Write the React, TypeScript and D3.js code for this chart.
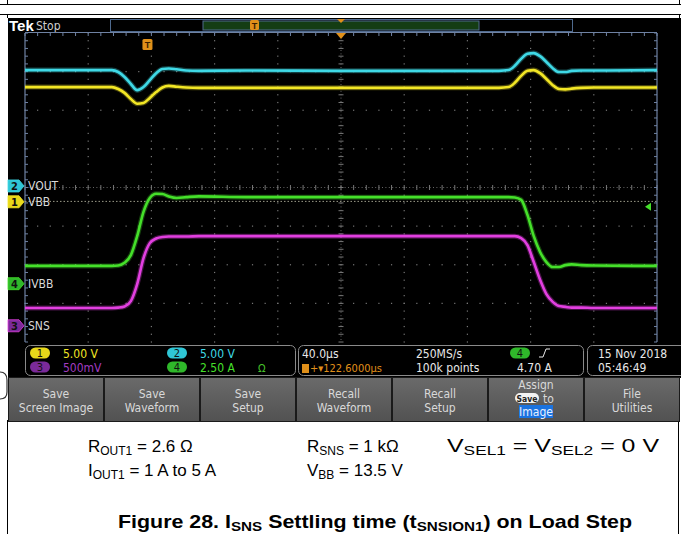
import React from 'react';
import * as d3 from 'd3';

// time axis, microseconds from left edge of the screen (40 µs/div, 10 div)
const timeUs = [0, 40, 55, 59, 63, 67, 71, 75, 79, 83, 87, 91, 96, 102, 110, 140, 200, 260, 300, 306, 310, 314, 318, 322, 326, 330, 334, 338, 342, 346, 352, 360, 400];
// traces in screen divisions (0 = screen centre)
const voutDiv = [3.04, 3.04, 3.04, 2.99, 2.86, 2.68, 2.52, 2.60, 2.78, 2.96, 3.07, 3.08, 3.06, 3.03, 3.02, 3.03, 3.02, 3.02, 3.02, 3.04, 3.15, 3.33, 3.46, 3.48, 3.40, 3.25, 3.09, 2.99, 2.99, 3.02, 3.03, 3.03, 3.04];
const vbbDiv = [2.60, 2.60, 2.60, 2.55, 2.45, 2.29, 2.17, 2.19, 2.32, 2.47, 2.59, 2.63, 2.61, 2.59, 2.58, 2.58, 2.58, 2.58, 2.58, 2.60, 2.71, 2.89, 3.02, 3.04, 2.96, 2.81, 2.65, 2.55, 2.54, 2.56, 2.58, 2.59, 2.59];
const ivbbDiv = [-2.03, -2.03, -2.03, -2.02, -1.95, -1.75, -1.26, -0.63, -0.27, -0.16, -0.17, -0.23, -0.27, -0.25, -0.23, -0.25, -0.25, -0.25, -0.25, -0.25, -0.26, -0.32, -0.71, -1.26, -1.67, -1.93, -2.06, -2.06, -2.01, -1.99, -2.01, -2.02, -2.03];
const snsDiv = [-3.12, -3.12, -3.12, -3.11, -3.08, -2.94, -2.50, -1.83, -1.44, -1.32, -1.28, -1.27, -1.27, -1.27, -1.26, -1.26, -1.26, -1.26, -1.26, -1.26, -1.26, -1.31, -1.49, -1.93, -2.39, -2.76, -2.96, -3.07, -3.09, -3.11, -3.11, -3.12, -3.12];

const channelNums = ['1', '2', '3', '4'];
const channelNames = ['VBB', 'VOUT', 'SNS', 'IVBB'];
const channelColors = ['#f2e625', '#3fd9e6', '#e23fe0', '#45e02a'];
const markerColors = ['#e8d81a', '#2fc6d6', '#7b2a9a', '#2fb82a'];
const groundDiv = [-0.37, 0.04, -3.58, -2.49];
const scaleLabels = ['5.00 V', '5.00 V', '500mV', '2.50 A'];
const triggerLevelDiv = -0.36;
const triggerArrowDiv = -0.5;

const buttonLabels = [
  ['Save', 'Screen Image'],
  ['Save', 'Waveform'],
  ['Save', 'Setup'],
  ['Recall', 'Waveform'],
  ['Recall', 'Setup'],
  ['Assign', '', 'Image'],
  ['File', 'Utilities'],
];

const scopeFont = "'Liberation Sans Narrow', 'DejaVu Sans Condensed', 'Liberation Sans', sans-serif";
const docFont = "'Liberation Sans', Arial, Helvetica, sans-serif";

export default function App() {
  const W = 681, H = 534;
  const x = d3.scaleLinear().domain([0, 400]).range([25, 657]);
  const y = d3.scaleLinear().domain([-4, 4]).range([342, 33]);
  const lineGen = d3.line<number>().x((_, i) => x(timeUs[i])).y(d => y(d)).curve(d3.curveMonotoneX);

  const traces = [vbbDiv, voutDiv, snsDiv, ivbbDiv];

  // graticule
  const dots: JSX.Element[] = [];
  const xMajor = d3.range(0, 11).map(i => i * 40);
  const yMajor = d3.range(-4, 5);
  const xMinor = d3.range(0, 51).map(i => i * 8);
  const yMinor = d3.range(-20, 21).map(i => i / 5);
  xMajor.forEach((t, i) => {
    if (i === 0 || i === 10 || i === 5) return;
    yMinor.forEach((v, j) => dots.push(<rect key={`vx${i}-${j}`} x={x(t) - 0.6} y={y(v) - 0.6} width={1.2} height={1.2} fill="#777" />));
  });
  yMajor.forEach((v, i) => {
    if (v === 0 || v === 4 || v === -4) return;
    xMinor.forEach((t, j) => dots.push(<rect key={`hy${i}-${j}`} x={x(t) - 0.6} y={y(v) - 0.6} width={1.2} height={1.2} fill="#777" />));
  });
  const cx = x(200), cy = y(0);

  const btnW = (680 - 8) / 7;

  return (
    <svg width={W} height={H} style={{ position: 'absolute', left: 0, top: 0, display: 'block', background: '#fff' }}>
      {/* document frame */}
      <line x1={0} y1={4.5} x2={W} y2={4.5} stroke="#000" strokeWidth={1} />
      <line x1={0} y1={14.5} x2={W} y2={14.5} stroke="#000" strokeWidth={1} />
      <line x1={7.5} y1={0} x2={7.5} y2={4.5} stroke="#000" />
      <line x1={7.5} y1={14.5} x2={7.5} y2={18} stroke="#000" />
      <line x1={679.5} y1={0} x2={679.5} y2={4.5} stroke="#000" />
      <line x1={679.5} y1={14.5} x2={679.5} y2={18} stroke="#000" />
      <line x1={7.5} y1={420} x2={7.5} y2={H} stroke="#000" />
      <line x1={678.5} y1={420} x2={678.5} y2={H} stroke="#000" />

      {/* scope screen */}
      <rect x={8} y={18} width={673} height={360} fill="#000" />
      <path d="M0,372 Q7,372 7,380 L7,392 Q7,399 0,399" fill="none" stroke="#333" strokeWidth={1.2} />

      {/* top bar */}
      <text x={9} y={31} fill="#fff" fontFamily={docFont} fontWeight="bold" fontSize={15}>Tek</text>
      <text x={36} y={30} fill="#cfcfcf" fontFamily={scopeFont} fontSize={12}>Stop</text>
      <rect x={110.5} y={19.5} width={462} height={12} fill="#000" stroke="#4f6a8e" strokeWidth={1} />
      <rect x={203} y={21} width={276} height={9} fill="#143d14" stroke="#4f6a8e" strokeWidth={1} />
      <rect x={250} y={20} width={9} height={10} rx={1.5} fill="#e0901a" />
      <text x={254.5} y={28.5} textAnchor="middle" fill="#3a2000" fontFamily={docFont} fontWeight="bold" fontSize={9}>T</text>
      <path d={`M${cx - 4},19 L${cx + 4},19 L${cx},23 Z`} fill="#e0901a" />

      {/* graticule */}
      {dots}
      <line x1={x(0)} y1={cy} x2={x(400)} y2={cy} stroke="#666" strokeDasharray="1 2.4" />
      <line x1={cx} y1={y(4)} x2={cx} y2={y(-4)} stroke="#666" strokeDasharray="1 2.4" />
      {xMinor.map((t, j) => <line key={`ct${j}`} x1={x(t)} y1={cy - 2.5} x2={x(t)} y2={cy + 2.5} stroke="#777" />)}
      {yMinor.map((v, j) => <line key={`cv${j}`} x1={cx - 2.5} y1={y(v)} x2={cx + 2.5} y2={y(v)} stroke="#777" />)}
      <line x1={x(0)} y1={y(4) - 0.5} x2={x(400)} y2={y(4) - 0.5} stroke="#6f82a3" strokeWidth={1} />
      <line x1={x(0)} y1={y(4)} x2={x(0)} y2={y(-4)} stroke="#6f82a3" strokeWidth={1.2} />
      <line x1={x(400)} y1={y(4)} x2={x(400)} y2={y(-4)} stroke="#6f82a3" strokeWidth={1.2} />
      {xMinor.map((t, j) => <line key={`tt${j}`} x1={x(t)} y1={y(4)} x2={x(t)} y2={y(4) + 3} stroke="#6f82a3" />)}
      {yMinor.map((v, j) => <line key={`lt${j}`} x1={x(0)} y1={y(v)} x2={x(0) + 3} y2={y(v)} stroke="#6f82a3" />)}
      {yMinor.map((v, j) => <line key={`rt${j}`} x1={x(400) - 3} y1={y(v)} x2={x(400)} y2={y(v)} stroke="#6f82a3" />)}

      {/* trigger level line & markers */}
      <line x1={x(0)} y1={y(triggerLevelDiv)} x2={x(400)} y2={y(triggerLevelDiv)} stroke="#9a9a88" strokeDasharray="1.5 2" />
      <path d={`M${x(400) - 12},${y(triggerArrowDiv)} L${x(400) - 6},${y(triggerArrowDiv) - 4} L${x(400) - 6},${y(triggerArrowDiv) + 4} Z`} fill="#45e02a" />
      <path d={`M${cx - 5},${y(4)} L${cx + 5},${y(4)} L${cx},${y(4) + 6} Z`} fill="#e0901a" />
      <rect x={x(77.5) - 5} y={39} width={10} height={11} rx={1.5} fill="#e0901a" />
      <text x={x(77.5)} y={48} textAnchor="middle" fill="#3a2000" fontFamily={docFont} fontWeight="bold" fontSize={9}>T</text>

      {/* traces */}
      {traces.map((vals, i) => (
        <path key={`g${i}`} d={lineGen(vals) || ''} fill="none" stroke={channelColors[i]} strokeOpacity={0.3} strokeWidth={5} />
      ))}
      {traces.map((vals, i) => (
        <path key={`t${i}`} d={lineGen(vals) || ''} fill="none" stroke={channelColors[i]} strokeWidth={2.6} strokeLinejoin="round" />
      ))}

      {/* channel ground markers */}
      {channelNums.map((n, i) => {
        const yy = y(groundDiv[i]);
        return (
          <g key={`m${n}`}>
            <path d={`M8,${yy - 6} L19,${yy - 6} L24,${yy} L19,${yy + 6} L8,${yy + 6} Z`} fill={markerColors[i]} stroke={channelColors[i]} strokeWidth={0.8} />
            <text x={14.5} y={yy + 4} textAnchor="middle" fill="#111" fontFamily={scopeFont} fontSize={11} fontWeight="bold">{n}</text>
            <text x={28} y={yy + 4.5} fill="#d8d8d8" fontFamily={scopeFont} fontSize={12}>{channelNames[i]}</text>
          </g>
        );
      })}

      {/* readout boxes */}
      <rect x={25.5} y={345.5} width={270} height={30} rx={5} fill="#000" stroke="#8a8a8a" />
      <rect x={298.5} y={345.5} width={285} height={30} rx={5} fill="#000" stroke="#8a8a8a" />
      <rect x={587.5} y={345.5} width={100} height={30} rx={5} fill="#000" stroke="#8a8a8a" />
      {[0, 2, 1, 3].map((ci, k) => {
        const col = k < 2 ? 0 : 1;
        const row = k % 2;
        const px = col === 0 ? 40 : 177;
        const py = row === 0 ? 353 : 367;
        return (
          <g key={`ro${ci}`}>
            <rect x={px - 10} y={py - 5.5} width={20} height={11} rx={5.5} fill={markerColors[ci]} />
            <text x={px} y={py + 4} textAnchor="middle" fill="#111" fontFamily={scopeFont} fontSize={11}>{channelNums[ci]}</text>
            <text x={px + 23} y={py + 4.5} fill={ci === 2 ? '#a23cc0' : channelColors[ci]} fontFamily={scopeFont} fontSize={12}>{scaleLabels[ci]}</text>
          </g>
        );
      })}
      <text x={258} y={371.5} fill="#45c02a" fontFamily={scopeFont} fontSize={11}>Ω</text>
      <text x={302} y={357.5} fill="#e8e8e8" fontFamily={scopeFont} fontSize={12}>40.0µs</text>
      <rect x={302} y={364} width={7} height={9} fill="#e0901a" />
      <text x={310} y={372} fill="#e0901a" fontFamily={scopeFont} fontSize={11}>+▾122.6000µs</text>
      <text x={416} y={357.5} fill="#e8e8e8" fontFamily={scopeFont} fontSize={12}>250MS/s</text>
      <text x={416} y={371.5} fill="#e8e8e8" fontFamily={scopeFont} fontSize={12}>100k points</text>
      <rect x={510} y={347.5} width={20} height={11} rx={5.5} fill={markerColors[3]} />
      <text x={520} y={357} textAnchor="middle" fill="#111" fontFamily={scopeFont} fontSize={11}>4</text>
      <path d="M539,357 L543,357 L546,349 L550,349" fill="none" stroke="#e8e8e8" strokeWidth={1} />
      <text x={517} y={371.5} fill="#e8e8e8" fontFamily={scopeFont} fontSize={12}>4.70 A</text>
      <text x={598} y={357.5} fill="#e8e8e8" fontFamily={scopeFont} fontSize={12}>15 Nov 2018</text>
      <text x={598} y={371.5} fill="#e8e8e8" fontFamily={scopeFont} fontSize={12}>05:46:49</text>

      {/* soft buttons */}
      <defs>
        <linearGradient id="btn" x1="0" y1="0" x2="0" y2="1">
          <stop offset="0" stopColor="#6a6a6a" />
          <stop offset="1" stopColor="#525252" />
        </linearGradient>
      </defs>
      <rect x={8} y={377} width={672} height={45} fill="#1a1a1a" />
      {buttonLabels.map((lines, i) => {
        const bx = 8 + i * btnW;
        const mid = bx + btnW / 2;
        return (
          <g key={`b${i}`}>
            <rect x={bx + 1} y={378} width={btnW - 2} height={43} fill="url(#btn)" />
            {lines.length === 2 ? (
              <>
                <text x={mid} y={398} textAnchor="middle" fill="#d9d9d9" fontFamily={scopeFont} fontSize={12}>{lines[0]}</text>
                <text x={mid} y={412} textAnchor="middle" fill="#d9d9d9" fontFamily={scopeFont} fontSize={12}>{lines[1]}</text>
              </>
            ) : (
              <>
                <text x={mid} y={389} textAnchor="middle" fill="#d9d9d9" fontFamily={scopeFont} fontSize={12}>{lines[0]}</text>
                <rect x={mid - 21} y={393} width={24} height={10} rx={5} fill="#f2f2f2" />
                <text x={mid - 9} y={401.5} textAnchor="middle" fill="#222" fontFamily={scopeFont} fontSize={8.5} fontWeight="bold">Save</text>
                <text x={mid + 7} y={402.5} fill="#d9d9d9" fontFamily={scopeFont} fontSize={12}>to</text>
                <rect x={mid - 17} y={405} width={34} height={13} fill="#1a73e0" />
                <text x={mid} y={416} textAnchor="middle" fill="#e8f0ff" fontFamily={scopeFont} fontSize={12}>{lines[2]}</text>
              </>
            )}
          </g>
        );
      })}

      {/* document text */}
      <g fontFamily={docFont} fontSize={17} fill="#000">
        <text x={88} y={452}>R<tspan fontSize={12} dy={3}>OUT1</tspan><tspan dy={-3}> = 2.6 Ω</tspan></text>
        <text x={307} y={452}>R<tspan fontSize={12} dy={3}>SNS</tspan><tspan dy={-3}> = 1 kΩ</tspan></text>
        <text x={447} y={452} fontSize={18} textLength={212} lengthAdjust="spacingAndGlyphs">V<tspan fontSize={12.5} dy={3}>SEL1</tspan><tspan dy={-3}> = V</tspan><tspan fontSize={12.5} dy={3}>SEL2</tspan><tspan dy={-3}> = 0 V</tspan></text>
        <text x={88} y={476}>I<tspan fontSize={12} dy={3}>OUT1</tspan><tspan dy={-3}> = 1 A to 5 A</tspan></text>
        <text x={307} y={476}>V<tspan fontSize={12} dy={3}>BB</tspan><tspan dy={-3}> = 13.5 V</tspan></text>
        <text x={118} y={528} fontSize={19} fontWeight="bold" textLength={514} lengthAdjust="spacingAndGlyphs">Figure 28. I<tspan fontSize={13.5} dy={3}>SNS</tspan><tspan dy={-3}> Settling time (t</tspan><tspan fontSize={13.5} dy={3}>SNSION1</tspan><tspan dy={-3}>) on Load Step</tspan></text>
      </g>
    </svg>
  );
}
